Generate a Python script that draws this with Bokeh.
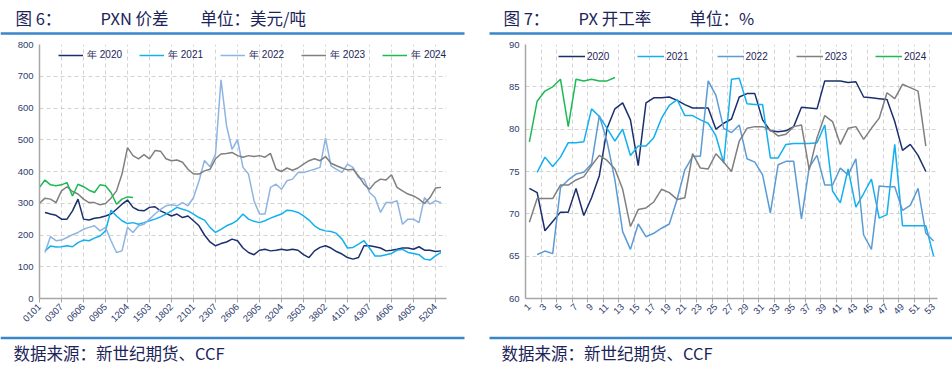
import math
from bokeh.plotting import figure
from bokeh.models import Range1d, FixedTicker, Legend, LegendItem
from bokeh.layouts import column, row
from bokeh.embed import file_html
from bokeh.resources import INLINE
from bokeh.core.properties import value

CJK = "Noto Sans CJK SC"
LAT = "Liberation Sans"
TXT = "#1C2458"
TICK_TXT = "#2E3C6E"
RULE = "#3A86C8"
GRID = "#D3D3D3"
AXIS = "#A6A6A6"

# ---------------- left chart: PXN spread (USD/t), one value every 5 day-slots
pxn_step = 5
pxn_ticks = [0, 20, 40, 60, 80, 100, 120, 140, 160, 180, 200, 220, 240, 260, 280, 300, 320, 340, 360]
pxn_tick_labels = ["0101", "0307", "0606", "0905", "1204", "1503", "1802", "2101", "2307", "2606",
                   "2905", "3204", "3503", "3802", "4101", "4307", "4606", "4905", "5204"]

pxn_2020_start = 5
pxn_2020 = [271, 266, 262, 250, 250, 276, 313, 250, 247, 253, 255, 260, 266, 281, 297, 310, 287, 278,
            276, 287, 289, 276, 268, 260, 266, 255, 260, 245, 229, 200, 178, 166, 173, 178, 187, 182,
            159, 145, 138, 152, 155, 150, 152, 155, 152, 155, 152, 138, 129, 150, 161, 166, 159, 148,
            140, 129, 124, 129, 166, 166, 163, 159, 150, 152, 155, 159, 159, 155, 163, 152, 152, 148, 150]
pxn_2021_start = 5
pxn_2021 = [150, 165, 162, 163, 166, 163, 176, 184, 182, 190, 197, 213, 278, 260, 245, 236, 239, 234,
            239, 245, 250, 257, 266, 276, 287, 281, 276, 266, 255, 247, 224, 208, 218, 229, 236, 247,
            266, 250, 243, 239, 245, 253, 260, 266, 278, 276, 271, 260, 247, 229, 218, 213, 211, 205,
            187, 159, 161, 171, 182, 159, 134, 134, 138, 142, 152, 155, 145, 142, 138, 124, 121, 134, 145]
pxn_2022_start = 5
pxn_2022 = [145, 195, 182, 184, 192, 201, 208, 218, 224, 229, 213, 224, 182, 145, 150, 224, 208, 229,
            234, 250, 266, 281, 292, 295, 292, 302, 292, 318, 370, 435, 415, 455, 689, 545, 470, 500,
            413, 392, 308, 266, 266, 350, 360, 344, 371, 376, 397, 397, 402, 407, 413, 505, 418, 407,
            397, 423, 413, 381, 376, 334, 318, 271, 302, 302, 308, 234, 250, 250, 239, 318, 297, 308, 302]
pxn_2023_start = 0
pxn_2023 = [300, 316, 313, 302, 339, 352, 337, 329, 313, 302, 302, 295, 299, 316, 339, 392, 475, 450,
            440, 453, 440, 466, 464, 440, 434, 436, 429, 407, 392, 392, 402, 407, 440, 455, 457, 460,
            450, 445, 450, 447, 450, 445, 457, 408, 400, 411, 404, 411, 423, 434, 440, 434, 447, 426,
            418, 411, 405, 407, 386, 360, 344, 365, 376, 373, 390, 350, 339, 329, 323, 313, 299, 318,
            348, 350]
pxn_2024_start = 0
pxn_2024 = [350, 373, 358, 355, 358, 365, 323, 360, 352, 341, 334, 358, 355, 334, 297, 313, 320, 318]

# ---------------- right chart: PX operating rate (%), by week
weeks = list(range(1, 54))
rate_2020 = [73.0, 72.5, 68.0, 69.1, 70.2, 70.2, 73.0, 69.8, 71.9, 74.5, 80.1, 82.4, 83.1, 81.1, 75.7,
             83.1, 83.7, 83.7, 83.8, 83.4, 82.9, 82.5, 82.5, 82.5, 80.0, 80.7, 81.2, 83.8, 84.2, 84.2,
             81.1, 79.8, 79.7, 79.8, 80.3, 82.6, 82.5, 82.4, 85.7, 85.7, 85.7, 85.5, 85.6, 83.8, 83.7,
             83.6, 83.5, 80.9, 77.5, 78.2, 76.9, 75.0, None]
rate_2021 = [None, 74.9, 76.7, 75.6, 76.7, 78.4, 78.4, 78.5, 82.4, 81.5, 80.1, 78.6, 80.0, 76.9, 78.0,
             78.0, 79.0, 81.3, 82.8, 83.5, 81.6, 81.6, 81.1, 80.7, 79.2, 76.0, 85.9, 86.0, 83.0, 82.9,
             82.9, 76.6, 76.6, 78.2, 78.3, 78.3, 78.3, 78.4, 80.5, 72.7, 71.3, 75.3, 70.8, 72.4, 74.1,
             69.5, 69.9, 78.2, 68.6, 68.6, 68.6, 68.6, 65.0]
rate_2022 = [None, 65.2, 65.6, 65.3, 73.1, 74.0, 74.7, 74.9, 75.9, 81.6, 78.5, 74.0, 67.9, 65.8, 68.8,
             67.3, 67.7, 68.3, 68.8, 71.7, 75.2, 76.8, 76.8, 85.7, 84.0, 80.1, 79.6, 80.5, 76.5, 76.1,
             74.6, 70.1, 75.8, 76.2, 76.2, 69.4, 75.5, 76.9, 73.4, 73.4, 75.4, 74.6, 76.5, 67.5, 65.8,
             73.3, 73.2, 73.2, 70.4, 71.0, 73.0, 67.7, 66.8]
rate_2023 = [69.0, 71.8, 71.8, 71.8, 73.4, 73.4, 74.0, 74.4, 75.7, 76.9, 76.3, 75.3, 72.9, 68.5, 70.5,
             70.7, 71.4, 72.9, 72.5, 71.7, 71.9, 77.1, 75.4, 75.3, 77.1, 76.1, 75.0, 78.6, 80.1, 80.3,
             80.3, 79.9, 79.2, 79.4, 80.3, 80.5, 75.2, 79.0, 81.6, 80.9, 78.2, 80.1, 80.3, 78.8, 80.1,
             81.3, 84.3, 83.6, 85.3, 84.9, 84.5, 78.0, None]
rate_2024 = [78.5, 83.3, 84.5, 85.0, 85.9, 80.3, 85.9, 85.7, 85.9, 85.7, 85.7, 86.1] + [None] * 41
rate_ticks = list(range(1, 54, 2))
rate_grid = [w + 1.5 for w in range(1, 52, 2)]

series_names = ["2020", "2021", "2022", "2023", "2024"]
left_colors = ["#1B2F6E", "#12B0EE", "#8DB4E2", "#7F7F7F", "#1DB954"]
right_colors = ["#1B2F6E", "#12B0EE", "#5B9BD5", "#7F7F7F", "#1DB954"]


def nan(v):
    return [float("nan") if a is None else a for a in v]


def banner(y0, y1):
    f = figure(width=952, height=y1 - y0, x_range=Range1d(0, 952), y_range=Range1d(y1, y0),
               toolbar_location=None, output_backend="svg", x_axis_location=None,
               y_axis_location=None, min_border=0, outline_line_color=None)
    f.xgrid.grid_line_color = None
    f.ygrid.grid_line_color = None
    return f


def put_text(f, x, y, s, size="16.5px", font=CJK):
    f.text(x=[x], y=[y], text=[s], text_font=value(font), text_font_size=size,
           text_color=TXT, text_baseline="middle", text_align="left")


# header
head = banner(0, 38)
put_text(head, 15, 17, "图 6：")
put_text(head, 100, 17, "PXN 价差")
put_text(head, 200, 17, "单位：美元/吨")
put_text(head, 503, 17, "图 7：")
put_text(head, 578, 17, "PX 开工率")
put_text(head, 689, 17, "单位：%")
head.segment(x0=[0, 489], y0=[33, 33], x1=[464, 952], y1=[33, 33], line_color=RULE, line_width=2.5)

# footer
foot = banner(333, 369)
foot.segment(x0=[0, 489], y0=[337.5, 337.5], x1=[464, 952], y1=[337.5, 337.5],
             line_color=RULE, line_width=2.5)
put_text(foot, 13, 352, "数据来源：新世纪期货、CCF")
put_text(foot, 501, 352, "数据来源：新世纪期货、CCF")


def style(p):
    p.xgrid.grid_line_color = GRID
    p.ygrid.grid_line_color = GRID
    p.xgrid.grid_line_dash = "4 3"
    p.ygrid.grid_line_dash = "4 3"
    for ax in (p.xaxis[0], p.yaxis[0]):
        ax.axis_line_color = AXIS
        ax.axis_line_width = 1.5
        ax.major_tick_line_color = AXIS
        ax.minor_tick_line_color = AXIS
        ax.major_label_text_color = TICK_TXT
        ax.major_label_text_font = LAT
        ax.major_label_text_font_size = "9.5px"
        ax.minor_tick_out = 0
        ax.minor_tick_in = 0
        ax.major_tick_in = 0
    p.yaxis[0].major_tick_out = 0
    p.yaxis[0].major_label_standoff = 6
    p.xaxis[0].major_label_orientation = math.pi / 4
    p.xaxis[0].major_label_standoff = 3


# left chart
pl = figure(width=480, height=295, x_range=Range1d(0, 370), y_range=Range1d(0, 800),
            toolbar_location=None, output_backend="svg", outline_line_color=None,
            min_border_left=39, min_border_right=34, min_border_top=6, min_border_bottom=35)
style(pl)
pl.xaxis[0].ticker = FixedTicker(ticks=pxn_ticks)
pl.xaxis[0].major_label_overrides = {t: s for t, s in zip(pxn_ticks, pxn_tick_labels)}
pl.xaxis[0].major_tick_out = 4
pl.yaxis[0].ticker = FixedTicker(ticks=list(range(0, 801, 100)))

left_items = []
for name, start, vals, col in zip(series_names,
                                  [pxn_2020_start, pxn_2021_start, pxn_2022_start, pxn_2023_start, pxn_2024_start],
                                  [pxn_2020, pxn_2021, pxn_2022, pxn_2023, pxn_2024], left_colors):
    xs = [start + pxn_step * k for k in range(len(vals))]
    r = pl.line(xs, vals, line_color=col, line_width=1.5)
    left_items.append(LegendItem(label="年 " + name, renderers=[r]))

lleg = Legend(items=left_items, orientation="horizontal", location=(19, 236), padding=0, margin=0,
              spacing=17, glyph_width=25, glyph_height=12, label_height=12, label_standoff=4,
              label_text_font=LAT, label_text_font_size="10px", label_text_color=TXT,
              background_fill_alpha=0, border_line_color=None)
pl.add_layout(lleg)

# right chart
pr = figure(width=472, height=295, x_range=Range1d(0.5, 53.5), y_range=Range1d(60, 90),
            toolbar_location=None, output_backend="svg", outline_line_color=None,
            min_border_left=45, min_border_right=15, min_border_top=6, min_border_bottom=27)
style(pr)
pr.xaxis[0].ticker = FixedTicker(ticks=rate_ticks, minor_ticks=rate_grid)
pr.xaxis[0].major_tick_out = 0
pr.xaxis[0].minor_tick_out = 4
pr.xgrid[0].ticker = FixedTicker(ticks=rate_grid)
pr.yaxis[0].ticker = FixedTicker(ticks=list(range(60, 91, 5)))

right_items = []
for name, vals, col in zip(series_names, [rate_2020, rate_2021, rate_2022, rate_2023, rate_2024],
                           right_colors):
    r = pr.line(weeks, nan(vals), line_color=col, line_width=1.5)
    right_items.append(LegendItem(label=name, renderers=[r]))

rleg = Legend(items=right_items, orientation="horizontal", location=(33, 236), padding=0, margin=0,
              spacing=28, glyph_width=27, glyph_height=12, label_height=12, label_standoff=2,
              label_text_font=LAT, label_text_font_size="10px", label_text_color=TXT,
              background_fill_alpha=0, border_line_color=None)
pr.add_layout(rleg)

layout = column(head, row(pl, pr), foot)
open("out.html", "w").write(file_html(layout, INLINE))
